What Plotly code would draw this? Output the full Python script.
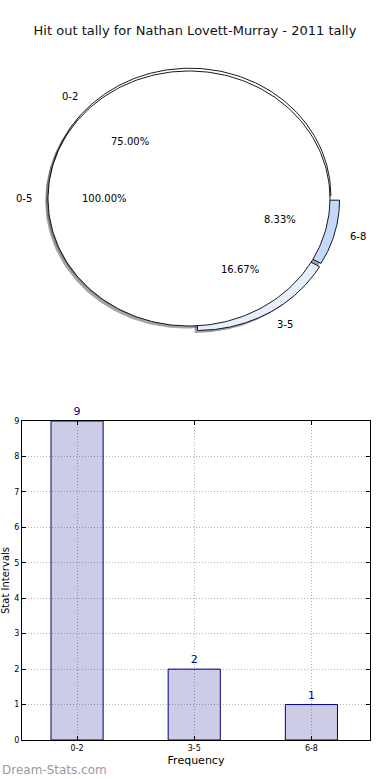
import numpy as np
import plotly.graph_objects as go

# ---------------- data ----------------
title_text = "Hit out tally for Nathan Lovett-Murray - 2011 tally"
categories = ["0-2", "3-5", "6-8"]
counts = [9, 2, 1]
total_labels = ["0-5"]
total_counts = [12]
y_ticks = [0, 1, 2, 3, 4, 5, 6, 7, 8, 9]

# ---------------- styles ----------------
slice_colors = ["#ffffff", "#e8effc", "#c6d8f9"]
slice_offsets = [(0.006, 0.022), (0.06, -0.035), (0.068, -0.013)]
total_colors = ["#ffffff"]
total_offsets = [(0.0, 0.0)]
shadow_off = (-0.02, -0.02)
FONT = "DejaVu Sans"

W, H = 390, 780


def shade(hexcol):
    h = hexcol.lstrip("#")
    r, g, b = (int(h[i:i + 2], 16) for i in (0, 2, 4))
    return "rgba(%d,%d,%d,0.5)" % (r * 0.3, g * 0.3, b * 0.3)


def wedge(cx, cy, a0, a1, n=240):
    t = np.radians(np.linspace(a0, a1, n))
    xs = cx + np.cos(t)
    ys = cy + np.sin(t)
    if abs(a1 - a0) < 359.999:
        xs = np.concatenate([[cx], xs, [cx]])
        ys = np.concatenate([[cy], ys, [cy]])
    return xs, ys


def pie_layers(labels, values, colors, offsets):
    tot = float(sum(values))
    angles = np.concatenate([[0.0], np.cumsum(values) / tot * 360.0])
    shadows, wedges, annots = [], [], []
    for i, lab in enumerate(labels):
        a0, a1 = angles[i], angles[i + 1]
        cx, cy = offsets[i]
        xs, ys = wedge(cx, cy, a0, a1)
        shadows.append(go.Scatter(x=xs + shadow_off[0], y=ys + shadow_off[1],
                                  mode="lines", fill="toself",
                                  fillcolor=shade(colors[i]), line=dict(width=0),
                                  xaxis="x2", yaxis="y2", hoverinfo="skip",
                                  showlegend=False))
        wedges.append(go.Scatter(x=xs, y=ys, mode="lines", fill="toself",
                                 fillcolor=colors[i],
                                 line=dict(color="black", width=0.9),
                                 xaxis="x2", yaxis="y2", hoverinfo="skip",
                                 showlegend=False))
        mid = np.radians((a0 + a1) / 2.0)
        c, s = np.cos(mid), np.sin(mid)
        annots.append(dict(x=cx + 1.1 * c, y=cy + 1.1 * s, text=lab,
                           xanchor="left" if c > 0 else "right",
                           yanchor="middle"))
        annots.append(dict(x=cx + 0.6 * c, y=cy + 0.6 * s,
                           text="%.2f%%" % (values[i] / tot * 100.0),
                           xanchor="center", yanchor="middle"))
    return shadows, wedges, annots


shA, wA, anA = pie_layers(categories, counts, slice_colors, slice_offsets)
shB, wB, anB = pie_layers(total_labels, total_counts, total_colors, total_offsets)

fig = go.Figure()
for tr in shA + shB + wA + wB:
    fig.add_trace(tr)

# ---------------- bar chart ----------------
xpos = list(range(len(categories)))
fig.add_trace(go.Bar(x=xpos, y=counts, width=0.445,
                     marker=dict(color="rgba(0,0,128,0.2)",
                                 line=dict(color="#000080", width=1)),
                     text=[str(v) for v in counts], textposition="outside",
                     textfont=dict(color="#000080", size=11, family=FONT),
                     cliponaxis=False, hoverinfo="skip", showlegend=False))

annotations = []
for a in anA + anB:
    a.update(xref="x2", yref="y2", showarrow=False,
             font=dict(family=FONT, size=10, color="black"))
    annotations.append(a)

annotations.append(dict(text="Dream-Stats.com", xref="paper", yref="paper",
                        x=0.0, y=1 - 770 / H, xanchor="left", yanchor="middle",
                        showarrow=False,
                        font=dict(family=FONT, size=12, color="#9a9a9a")))

# pie axes in radius units (non-equal aspect -> ellipse, like the original)
px_cx, px_cy, rx, ry = 189.0, 198.5, 141.0, 127.5
pie_top, pie_bot = 50.0, 350.0

grid = dict(showgrid=True, gridcolor="#b4b4b4", griddash="1px,2px", gridwidth=1)

fig.update_layout(
    width=W, height=H, margin=dict(l=0, r=0, t=0, b=0, pad=0, autoexpand=False),
    paper_bgcolor="white", plot_bgcolor="white",
    font=dict(family=FONT, color="black"),
    title=dict(text=title_text, x=0.5, xanchor="center", y=1 - 30 / H,
               yanchor="middle", font=dict(family=FONT, size=13, color="#111111")),
    annotations=annotations,
    xaxis2=dict(domain=[0, 1], range=[-px_cx / rx, (W - px_cx) / rx],
                visible=False, fixedrange=True, anchor="y2", automargin=False),
    yaxis2=dict(domain=[1 - pie_bot / H, 1 - pie_top / H],
                range=[-(pie_bot - px_cy) / ry, (px_cy - pie_top) / ry],
                visible=False, fixedrange=True, anchor="x2", automargin=False),
    xaxis=dict(domain=[22 / W, 370 / W], range=[-0.47, 2.5],
               tickvals=xpos, ticktext=categories,
               tickfont=dict(size=8, family=FONT),
               ticks="inside", ticklen=4, tickcolor="black",
               showline=True, linecolor="black", linewidth=1, mirror="ticks",
               title=dict(text="Frequency", font=dict(size=11, family=FONT),
                          standoff=4),
               zeroline=False, fixedrange=True, anchor="y", automargin=False,
               **grid),
    yaxis=dict(domain=[1 - 740 / H, 1 - 421 / H], range=[0, 9],
               tickvals=y_ticks, tickfont=dict(size=8, family=FONT),
               ticks="inside", ticklen=4, tickcolor="black",
               showline=True, linecolor="black", linewidth=1, mirror="ticks",
               title=dict(text="Stat Intervals", font=dict(size=10, family=FONT),
                          standoff=2),
               zeroline=False, fixedrange=True, anchor="x", automargin=False,
               **grid),
)

fig.write_html("out.html",
               config={"displayModeBar": False},
               post_script="document.body.style.margin='0px';"
                           "document.body.style.overflow='hidden';")
